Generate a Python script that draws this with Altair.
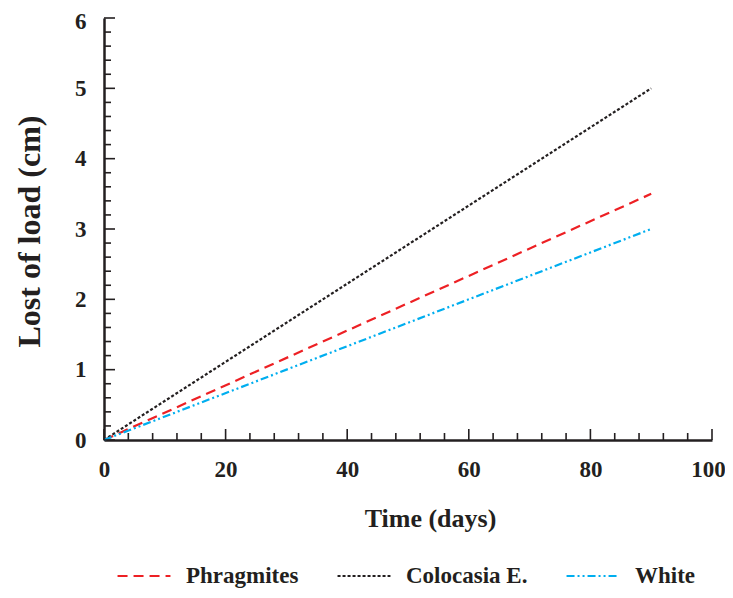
import altair as alt
import pandas as pd

# ---- data ----
series = ["Phragmites", "Colocasia E.", "White"]
days = [0, 90]
phragmites = [0.0, 3.5]
colocasia = [0.0, 5.0]
white = [0.0, 3.0]

x_major = [0, 20, 40, 60, 80, 100]
x_minor = [v for v in range(0, 101, 4) if v % 20 != 0]
y_major = [0, 1, 2, 3, 4, 5, 6]
y_minor = [round(i * 0.2, 1) for i in range(31) if i % 5 != 0]

colors = ["#ED2024", "#231F20", "#00AEEF"]
dashes = [[10, 6], [3, 2], [8, 3, 2, 3, 2, 3]]

rows = []
for name, vals in zip(series, [phragmites, colocasia, white]):
    for d, v in zip(days, vals):
        rows.append({"series": name, "days": d, "loss": v})
df = pd.DataFrame(rows)

FONT = "Liberation Serif"
INK = "#231F20"
W, H = 608, 422
MAJOR, MINOR = 11, 7
xscale = alt.Scale(domain=[0, 100], nice=False, zero=False)
yscale = alt.Scale(domain=[0, 6], nice=False, zero=False)

legend = alt.Legend(
    title="",
    orient="none",
    direction="horizontal",
    legendX=12,
    legendY=530,
    symbolType="stroke",
    symbolSize=2800,
    symbolStrokeWidth=2.2,
    labelFont=FONT,
    labelFontSize=23,
    labelFontWeight="bold",
    labelColor=INK,
    labelOffset=14,
    columnPadding=34,
)

x_axis = alt.Axis(
    orient="bottom",
    values=x_major,
    ticks=False,
    grid=False,
    labelFlush=False,
    labelOffset={"condition": {"test": "datum.value >= 100", "value": -4}, "value": 0},
    domainColor=INK,
    domainWidth=2.5,
    labelFont=FONT,
    labelFontSize=23,
    labelFontWeight="bold",
    labelColor=INK,
    labelPadding=18,
    title="Time (days)",
    titleFont=FONT,
    titleFontSize=26,
    titleFontWeight="bold",
    titleColor=INK,
    titleX=326,
    titleY=78,
    titleBaseline="middle",
    titleAlign="center",
)

y_axis = alt.Axis(
    orient="left",
    values=y_major,
    ticks=False,
    grid=False,
    labelFlush=False,
    labelOffset={"condition": {"test": "datum.value >= 6", "value": 3}, "value": 0},
    domainColor=INK,
    domainWidth=2.5,
    labelFont=FONT,
    labelFontSize=23,
    labelFontWeight="bold",
    labelColor=INK,
    labelPadding=18,
    title="Lost of load (cm)",
    titleFont=FONT,
    titleFontSize=32,
    titleFontWeight="bold",
    titleColor=INK,
    titleAngle=-90,
    titleX=-75,
    titleY=213,
    titleBaseline="middle",
    titleAlign="center",
)

lines = alt.Chart(df).mark_line(strokeWidth=2.2).encode(
    x=alt.X("days:Q", scale=xscale, axis=x_axis),
    y=alt.Y("loss:Q", scale=yscale, axis=y_axis),
    color=alt.Color("series:N", scale=alt.Scale(domain=series, range=colors), legend=legend),
    strokeDash=alt.StrokeDash("series:N", scale=alt.Scale(domain=series, range=dashes), legend=legend),
)


def x_ticks(vals, size):
    return alt.Chart(pd.DataFrame({"days": vals})).mark_rule(color=INK, strokeWidth=1.6).encode(
        x=alt.X("days:Q", scale=xscale, axis=x_axis),
        y=alt.value(H),
        y2=alt.value(H - size),
    )


def y_ticks(vals, size):
    return alt.Chart(pd.DataFrame({"loss": vals})).mark_rule(color=INK, strokeWidth=1.6).encode(
        y=alt.Y("loss:Q", scale=yscale, axis=y_axis),
        x=alt.value(0),
        x2=alt.value(size),
    )


chart = (
    alt.layer(
        lines,
        x_ticks(x_minor, MINOR), x_ticks(x_major, MAJOR),
        y_ticks(y_minor, MINOR), y_ticks(y_major, MAJOR),
    )
    .properties(
        width=W,
        height=H,
        autosize="none",
        padding={"left": 96, "top": 10, "right": 13, "bottom": 150},
        background="white",
    )
    .configure_view(stroke=None)
)

chart.save("out.html", embed_options={"renderer": "svg", "actions": False})
